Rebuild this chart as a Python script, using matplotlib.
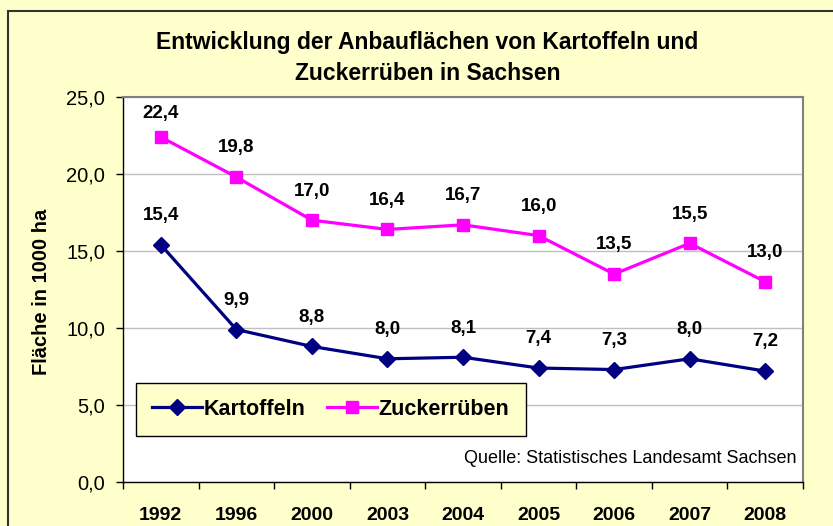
import matplotlib.pyplot as plt
from matplotlib.patches import Rectangle

plt.rcParams['font.family'] = ['Liberation Sans', 'DejaVu Sans']

# data
years = ['1992', '1996', '2000', '2003', '2004', '2005', '2006', '2007', '2008']
kartoffeln = [15.4, 9.9, 8.8, 8.0, 8.1, 7.4, 7.3, 8.0, 7.2]
zuckerrueben = [22.4, 19.8, 17.0, 16.4, 16.7, 16.0, 13.5, 15.5, 13.0]
y_ticks = [0, 5, 10, 15, 20, 25]

bg = '#FFFFCC'
fig = plt.figure(figsize=(8.33, 5.26), dpi=100, facecolor=bg)
ax = fig.add_axes([0.1477, 0.0837, 0.8163, 0.7319])
ax.set_facecolor('white')

# outer frame of the chart
fig.patches.append(Rectangle((8 / 833, -0.2), 1.2, 1.2 - 11 / 526,
                             transform=fig.transFigure, fill=False,
                             edgecolor='#333333', linewidth=1.5))

x = list(range(len(years)))
ax.plot(x, kartoffeln, color='#000080', marker='D', markersize=8.5,
        linewidth=2.3, label='Kartoffeln', zorder=3)
ax.plot(x, zuckerrueben, color='#FF00FF', marker='s', markersize=8.5,
        linewidth=2.3, label='Zuckerrüben', zorder=3)

for xi, v in zip(x, kartoffeln):
    ax.annotate(f'{v:.1f}'.replace('.', ','), (xi, v), xytext=(0, 21),
                textcoords='offset points', ha='center', va='center',
                fontsize=13.5, fontweight='bold')
for i, (xi, v) in enumerate(zip(x, zuckerrueben)):
    off = 17 if i == 0 else 21
    ax.annotate(f'{v:.1f}'.replace('.', ','), (xi, v), xytext=(0, off),
                textcoords='offset points', ha='center', va='center',
                fontsize=13.5, fontweight='bold')

ax.set_xlim(-0.5, len(years) - 0.5)
ax.set_ylim(0, 25)
ax.set_yticks(y_ticks)
ax.set_yticklabels([f'{t:.1f}'.replace('.', ',') for t in y_ticks], fontsize=14.5)
ax.set_xticks(x)
ax.set_xticklabels(years, fontsize=14, fontweight='bold')
ax.tick_params(axis='x', length=0, pad=18)
ax.set_xticks([i - 0.5 for i in range(len(years) + 1)], minor=True)
ax.tick_params(axis='x', which='minor', length=5, width=1, direction='out')
ax.tick_params(axis='y', length=5, width=1, direction='out', pad=8)
ax.grid(axis='y', color='#C0C0C0', linewidth=1)
ax.set_axisbelow(True)
for side in ['top', 'right']:
    ax.spines[side].set_color('#808080')
    ax.spines[side].set_linewidth(1.5)
for side in ['left', 'bottom']:
    ax.spines[side].set_color('black')
    ax.spines[side].set_linewidth(1)

leg = ax.legend(loc='lower left', bbox_to_anchor=(0.019, 0.119), ncol=2,
                prop={'weight': 'bold', 'size': 15.5}, frameon=True,
                fancybox=False, edgecolor='black', facecolor=bg, framealpha=1,
                handlelength=2.3, handletextpad=0.1, columnspacing=1.0,
                borderpad=0.75, borderaxespad=0)
leg.get_frame().set_linewidth(1)

ax.text(0.991, 0.04, 'Quelle: Statistisches Landesamt Sachsen',
        transform=ax.transAxes, ha='right', va='bottom', fontsize=13)

fig.text(0.513, 0.89, 'Entwicklung der Anbauflächen von Kartoffeln und\nZuckerrüben in Sachsen',
         ha='center', va='center', fontsize=16.5, fontweight='bold',
         linespacing=1.45)
fig.text(42 / 833, 1 - 292 / 526, 'Fläche in 1000 ha', rotation=90,
         ha='center', va='center', fontsize=14.5, fontweight='bold')

fig.savefig('out.png', dpi=100, facecolor=bg)
